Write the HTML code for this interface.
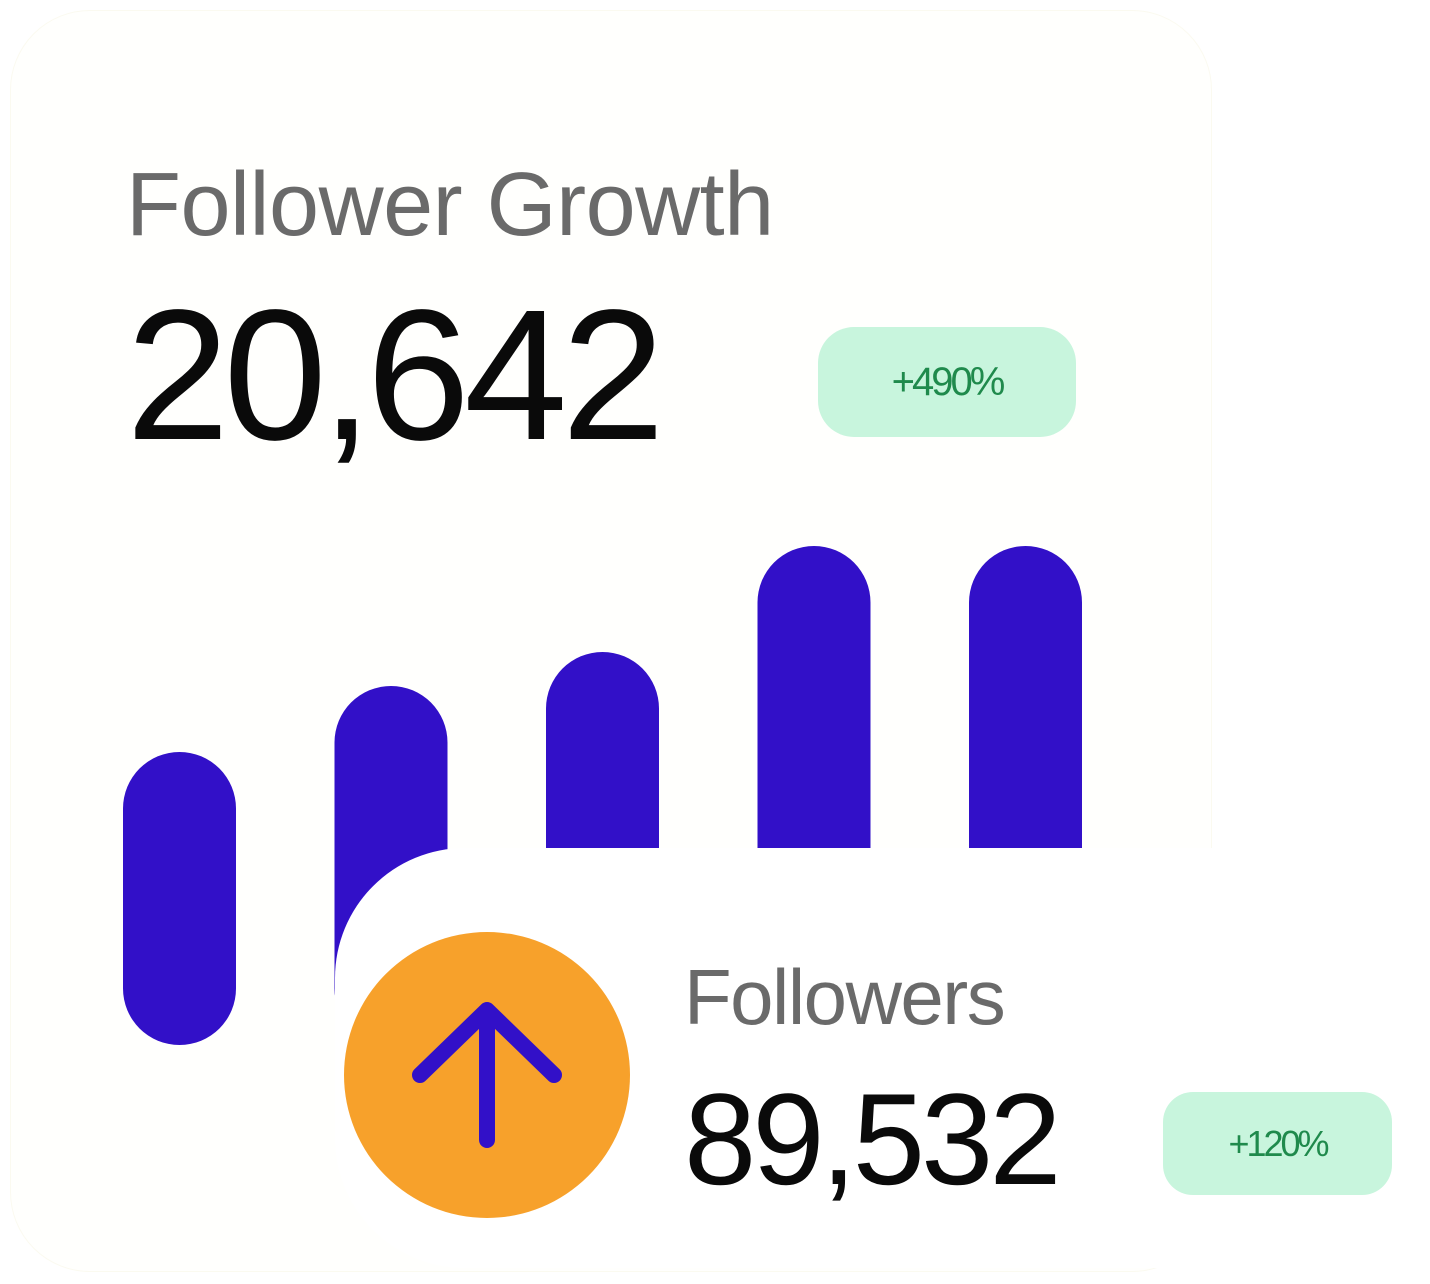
<!DOCTYPE html>
<html><head><meta charset="utf-8">
<style>
html,body{margin:0;padding:0;background:#fff;}
body{width:1430px;height:1284px;position:relative;overflow:hidden;font-family:"Liberation Sans",sans-serif;}
.t{position:absolute;white-space:nowrap;}
</style></head>
<body>
<div style="position:absolute;left:10px;top:10px;width:1200px;height:1260px;border-radius:80px;background:#fffffd;border:1px solid #fbfaf0;"></div>
<div class="t" style="left:126px;top:154px;font-size:90px;color:#6a6a6a;letter-spacing:-0.5px;">Follower Growth</div>
<div class="t" style="left:126px;top:269px;font-size:186px;color:#0a0a0a;letter-spacing:-6px;">20,642</div>
<div style="position:absolute;left:818px;top:327px;width:258px;height:110px;border-radius:36px;background:#c8f5dd;color:#1f8a4c;font-size:40px;display:flex;align-items:center;justify-content:center;letter-spacing:-3px;">+490%</div>
<svg id="chart" width="1430" height="1284" style="position:absolute;left:0;top:0"></svg>
<script>
const categories=["p1","p2","p3","p4","p5"];
const values=[2.93,3.59,3.93,4.99,4.99];
const svg=document.getElementById('chart');
const NS="http://www.w3.org/2000/svg";
const base=1045, k=100, x0=123, step=211.5, bw=113;
function yScale(v){return base-v*k;}
function xScale(i){return x0+i*step;}
values.forEach((v,i)=>{
  const r=document.createElementNS(NS,'rect');
  r.setAttribute('x',xScale(i));
  r.setAttribute('y',yScale(v));
  r.setAttribute('width',bw);
  r.setAttribute('height',base-yScale(v));
  r.setAttribute('rx',bw/2);
  r.setAttribute('fill','#3210c8');
  
  
  svg.appendChild(r);
});
</script>
<div style="position:absolute;left:335px;top:848px;width:1085px;height:420px;border-radius:130px;background:#fff;"></div>
<div style="position:absolute;left:344px;top:932px;width:286px;height:286px;border-radius:50%;background:#f7a12b;">
<svg width="286" height="286"><path d="M143 208 V80 M76 143 L143 78 L210 143" stroke="#3210c8" stroke-width="16" fill="none" stroke-linecap="round" stroke-linejoin="round"/></svg>
</div>
<div class="t" style="left:684px;top:952px;font-size:78px;color:#6a6a6a;letter-spacing:-1.5px;">Followers</div>
<div class="t" style="left:684px;top:1064px;font-size:130px;color:#0a0a0a;letter-spacing:-4px;">89,532</div>
<div style="position:absolute;left:1163px;top:1092px;width:229px;height:103px;border-radius:30px;background:#c8f5dd;color:#1f8a4c;font-size:36px;display:flex;align-items:center;justify-content:center;letter-spacing:-3px;">+120%</div>
</body></html>
